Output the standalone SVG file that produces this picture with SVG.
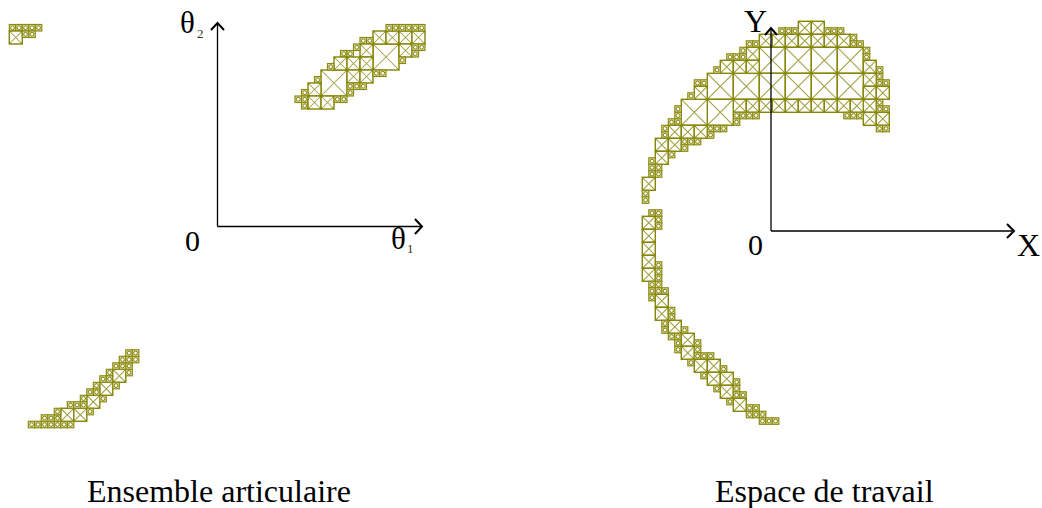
<svg xmlns="http://www.w3.org/2000/svg" width="1042" height="508" viewBox="0 0 1042 508">
<style>
.box{fill:#fff;stroke:#868608;stroke-width:.22}
.diag{fill:none;stroke:#a0a040;stroke-width:.16}
.knot{fill:#808000}
.ring{fill:#fff;stroke:#808000;stroke-width:.15}
.small{fill:#dedeb0;stroke:#8a8a10;stroke-width:.18}
.axis{fill:none;stroke:#000;stroke-width:1.3}
.head{fill:none;stroke:#000;stroke-width:2}
text{font-family:"Liberation Serif","Times New Roman",serif;fill:#000}
.lab{font-size:32px}
.zero{font-size:30px}
.th{font-size:31px}
.sub{font-size:13px;fill:#333}
</style>
<defs>
<g id="s"><rect class="small" width="1" height="1"/><circle class="ring" cx=".5" cy=".5" r=".29"/></g>
<g id="m"><rect class="box" width="2" height="2"/><path class="diag" d="M0 0L2 2M2 0L0 2"/><path class="knot" d="M0 0H.3L0 .3ZM2 0V.3L1.7 0ZM2 2H1.7L2 1.7ZM0 2V1.7L.3 2Z"/></g>
<g id="b"><rect class="box" width="4" height="4"/><path class="diag" d="M0 0L4 4M4 0L0 4"/><path class="knot" d="M0 0H.3L0 .3ZM4 0V.3L3.7 0ZM4 4H3.7L4 3.7ZM0 4V3.7L.3 4Z"/></g>
</defs>

<g id="cluster-upper-left" transform="translate(9.3 24.5) scale(6.5)">
<use href="#s" x="0" y="0"/><use href="#s" x="1" y="0"/><use href="#s" x="2" y="0"/><use href="#s" x="3" y="0"/><use href="#s" x="4" y="0"/>
<use href="#m" x="0" y="1"/><use href="#s" x="2" y="1"/><use href="#s" x="3" y="1"/>
</g>

<g id="cluster-upper-right" transform="translate(321 70) scale(6.5)">
<use href="#b" x="0" y="0"/><use href="#b" x="8" y="-4"/>
<use href="#m" x="8" y="-6"/><use href="#m" x="10" y="-6"/><use href="#m" x="12" y="-6"/><use href="#m" x="14" y="-6"/>
<use href="#s" x="10" y="-7"/><use href="#s" x="11" y="-7"/><use href="#s" x="12" y="-7"/><use href="#s" x="13" y="-7"/><use href="#s" x="14" y="-7"/><use href="#s" x="15" y="-7"/>
<use href="#m" x="12" y="-4"/><use href="#s" x="14" y="-4"/><use href="#s" x="15" y="-4"/><use href="#s" x="14" y="-3"/><use href="#s" x="12" y="-2"/>
<use href="#s" x="6" y="-5"/><use href="#s" x="7" y="-5"/><use href="#m" x="6" y="-4"/><use href="#s" x="5" y="-4"/>
<use href="#s" x="3" y="-3"/><use href="#s" x="4" y="-3"/><use href="#m" x="2" y="-2"/><use href="#m" x="4" y="-2"/><use href="#m" x="6" y="-2"/><use href="#s" x="1" y="-1"/>
<use href="#m" x="4" y="0"/><use href="#m" x="6" y="0"/><use href="#s" x="8" y="0"/><use href="#s" x="9" y="0"/>
<use href="#s" x="4" y="2"/><use href="#s" x="5" y="2"/><use href="#s" x="6" y="2"/><use href="#s" x="4" y="3"/>
<use href="#s" x="-1" y="1"/><use href="#m" x="-2" y="2"/><use href="#s" x="-3" y="3"/><use href="#s" x="-3" y="4"/><use href="#s" x="-4" y="4"/><use href="#s" x="-3" y="5"/>
<use href="#m" x="-2" y="4"/><use href="#m" x="0" y="4"/><use href="#s" x="2" y="4"/><use href="#s" x="3" y="4"/>
</g>

<g id="cluster-lower-left" transform="translate(28.3 421.3) scale(6.5)">
<use href="#s" x="0" y="0"/><use href="#s" x="1" y="0"/><use href="#s" x="2" y="0"/><use href="#s" x="3" y="0"/><use href="#s" x="4" y="0"/><use href="#s" x="5" y="0"/><use href="#s" x="6" y="0"/>
<use href="#s" x="2" y="-1"/><use href="#s" x="3" y="-1"/><use href="#s" x="4" y="-1"/>
<use href="#m" x="5" y="-2"/><use href="#m" x="7" y="-2"/><use href="#s" x="4" y="-2"/>
<use href="#s" x="6" y="-3"/><use href="#s" x="7" y="-3"/><use href="#m" x="9" y="-4"/><use href="#s" x="8" y="-4"/><use href="#s" x="8" y="-3"/><use href="#s" x="9" y="-2"/><use href="#s" x="11" y="-4"/>
<use href="#m" x="11" y="-6"/><use href="#s" x="9" y="-5"/><use href="#s" x="10" y="-5"/><use href="#s" x="10" y="-6"/>
<use href="#s" x="11" y="-7"/><use href="#s" x="12" y="-8"/><use href="#s" x="12" y="-7"/><use href="#m" x="13" y="-8"/><use href="#s" x="13" y="-6"/>
<use href="#s" x="13" y="-9"/><use href="#s" x="14" y="-9"/><use href="#s" x="15" y="-8"/><use href="#s" x="15" y="-9"/>
<use href="#s" x="14" y="-10"/><use href="#s" x="15" y="-10"/><use href="#s" x="16" y="-10"/><use href="#s" x="15" y="-11"/><use href="#s" x="16" y="-11"/>
</g>

<g id="cluster-workspace" transform="translate(707.3 73.3) scale(6.5)">
<use href="#m" x="14" y="-8"/><use href="#m" x="16" y="-8"/>
<use href="#s" x="11" y="-7"/><use href="#s" x="12" y="-7"/><use href="#s" x="13" y="-7"/><use href="#s" x="18" y="-7"/><use href="#s" x="19" y="-7"/><use href="#s" x="20" y="-7"/>
<use href="#m" x="8" y="-6"/><use href="#m" x="10" y="-6"/><use href="#m" x="12" y="-6"/><use href="#m" x="14" y="-6"/><use href="#m" x="16" y="-6"/><use href="#m" x="18" y="-6"/><use href="#m" x="20" y="-6"/>
<use href="#s" x="22" y="-6"/><use href="#s" x="22" y="-5"/><use href="#s" x="23" y="-5"/>
<use href="#b" x="8" y="-4"/><use href="#b" x="12" y="-4"/><use href="#b" x="16" y="-4"/><use href="#b" x="20" y="-4"/>
<use href="#s" x="24" y="-4"/><use href="#s" x="24" y="-3"/><use href="#m" x="24" y="-2"/><use href="#s" x="26" y="-1"/><use href="#s" x="26" y="0"/><use href="#s" x="26" y="1"/><use href="#s" x="27" y="1"/><use href="#m" x="24" y="0"/>
<use href="#b" x="0" y="0"/><use href="#b" x="4" y="0"/><use href="#b" x="8" y="0"/><use href="#b" x="12" y="0"/><use href="#b" x="16" y="0"/><use href="#b" x="20" y="0"/>
<use href="#m" x="24" y="2"/><use href="#m" x="26" y="2"/><use href="#s" x="26" y="4"/><use href="#s" x="26" y="5"/><use href="#s" x="27" y="5"/><use href="#m" x="24" y="4"/><use href="#m" x="24" y="6"/><use href="#m" x="26" y="6"/><use href="#s" x="26" y="8"/><use href="#s" x="27" y="8"/>
<use href="#m" x="4" y="4"/><use href="#m" x="6" y="4"/><use href="#m" x="8" y="4"/><use href="#m" x="10" y="4"/><use href="#m" x="12" y="4"/><use href="#m" x="14" y="4"/><use href="#m" x="16" y="4"/><use href="#m" x="18" y="4"/><use href="#m" x="20" y="4"/><use href="#m" x="22" y="4"/>
<use href="#s" x="21" y="6"/><use href="#s" x="22" y="6"/><use href="#s" x="23" y="6"/>
<use href="#s" x="4" y="6"/><use href="#s" x="5" y="6"/><use href="#s" x="6" y="6"/><use href="#s" x="7" y="6"/><use href="#s" x="4" y="7"/>
<use href="#b" x="0" y="4"/><use href="#b" x="-4" y="4"/>
<use href="#s" x="0" y="8"/><use href="#s" x="1" y="8"/><use href="#s" x="2" y="8"/><use href="#s" x="0" y="9"/>
<use href="#s" x="6" y="-5"/><use href="#s" x="7" y="-5"/><use href="#m" x="6" y="-4"/><use href="#s" x="5" y="-4"/>
<use href="#s" x="3" y="-3"/><use href="#s" x="4" y="-3"/><use href="#s" x="5" y="-3"/><use href="#m" x="2" y="-2"/><use href="#m" x="4" y="-2"/><use href="#m" x="6" y="-2"/><use href="#s" x="1" y="-1"/>
<use href="#s" x="-2" y="1"/><use href="#s" x="-1" y="1"/><use href="#m" x="-2" y="2"/><use href="#s" x="-3" y="3"/>
<use href="#s" x="-5" y="5"/><use href="#s" x="-5" y="6"/><use href="#s" x="-6" y="7"/><use href="#s" x="-5" y="7"/>
<use href="#m" x="-6" y="8"/><use href="#m" x="-4" y="8"/><use href="#m" x="-2" y="8"/><use href="#s" x="-7" y="8"/><use href="#s" x="-7" y="9"/>
<use href="#m" x="-8" y="10"/><use href="#m" x="-6" y="10"/><use href="#s" x="-4" y="10"/><use href="#s" x="-3" y="10"/><use href="#s" x="-2" y="10"/><use href="#s" x="-4" y="11"/>
<use href="#m" x="-8" y="12"/><use href="#s" x="-6" y="12"/><use href="#s" x="-9" y="13"/><use href="#s" x="-9" y="14"/><use href="#s" x="-9" y="15"/><use href="#s" x="-8" y="14"/><use href="#s" x="-8" y="15"/>
<use href="#m" x="-10" y="16"/><use href="#s" x="-10" y="18"/><use href="#s" x="-10" y="19"/>
<use href="#s" x="-9" y="21"/><use href="#s" x="-8" y="21"/><use href="#s" x="-8" y="22"/><use href="#s" x="-8" y="23"/>
<use href="#m" x="-10" y="22"/><use href="#m" x="-10" y="24"/><use href="#m" x="-10" y="26"/><use href="#m" x="-10" y="28"/><use href="#m" x="-10" y="30"/>
<use href="#s" x="-8" y="29"/><use href="#s" x="-8" y="30"/><use href="#s" x="-8" y="31"/><use href="#s" x="-8" y="32"/><use href="#s" x="-9" y="32"/><use href="#s" x="-9" y="33"/><use href="#s" x="-9" y="34"/><use href="#s" x="-8" y="33"/><use href="#s" x="-7" y="33"/>
<use href="#m" x="-8" y="34"/><use href="#m" x="-8" y="36"/><use href="#s" x="-6" y="36"/><use href="#s" x="-6" y="37"/>
<use href="#s" x="-7" y="38"/><use href="#s" x="-7" y="39"/><use href="#m" x="-6" y="38"/><use href="#s" x="-4" y="39"/><use href="#s" x="-6" y="40"/><use href="#s" x="-5" y="40"/><use href="#s" x="-5" y="41"/><use href="#s" x="-5" y="42"/>
<use href="#m" x="-4" y="40"/><use href="#m" x="-4" y="42"/><use href="#s" x="-2" y="41"/><use href="#s" x="-2" y="42"/><use href="#s" x="-2" y="43"/><use href="#s" x="-1" y="43"/><use href="#s" x="0" y="43"/><use href="#s" x="-3" y="44"/>
<use href="#m" x="-2" y="44"/><use href="#m" x="0" y="44"/><use href="#s" x="2" y="45"/><use href="#s" x="-1" y="46"/><use href="#m" x="0" y="46"/><use href="#m" x="2" y="46"/><use href="#s" x="1" y="48"/><use href="#m" x="2" y="48"/>
<use href="#s" x="4" y="47"/><use href="#s" x="4" y="48"/><use href="#s" x="4" y="49"/><use href="#s" x="5" y="49"/><use href="#s" x="3" y="50"/><use href="#m" x="4" y="50"/>
<use href="#s" x="6" y="51"/><use href="#s" x="7" y="51"/><use href="#s" x="6" y="52"/><use href="#s" x="7" y="52"/><use href="#s" x="8" y="52"/><use href="#s" x="8" y="53"/><use href="#s" x="9" y="53"/><use href="#s" x="10" y="53"/>
</g>

<g id="connectors">
<path class="axis" d="M217.5 226.5V23M217.5 226.5H421"/>
<path class="head" d="M211 30L217.5 23L224 30M415 219L422 226.5L415 234"/>
<path class="axis" d="M771 231V29M771 231H1013"/>
<path class="head" d="M765 35L771 28L777 35M1007 224L1014 231L1007 238"/>
</g>

<g id="labels">
<text class="th" x="180" y="33">θ</text><text class="sub" x="197" y="38">2</text>
<text class="zero" x="185" y="251">0</text>
<text class="th" x="391" y="249">θ</text><text class="sub" x="407" y="253">1</text>
<text class="lab" x="744" y="32">Y</text>
<text class="zero" x="748" y="255">0</text>
<text class="lab" x="1017" y="256">X</text>
<text class="lab" x="87" y="502">Ensemble articulaire</text>
<text class="lab" x="715" y="502">Espace de travail</text>
</g>
</svg>
